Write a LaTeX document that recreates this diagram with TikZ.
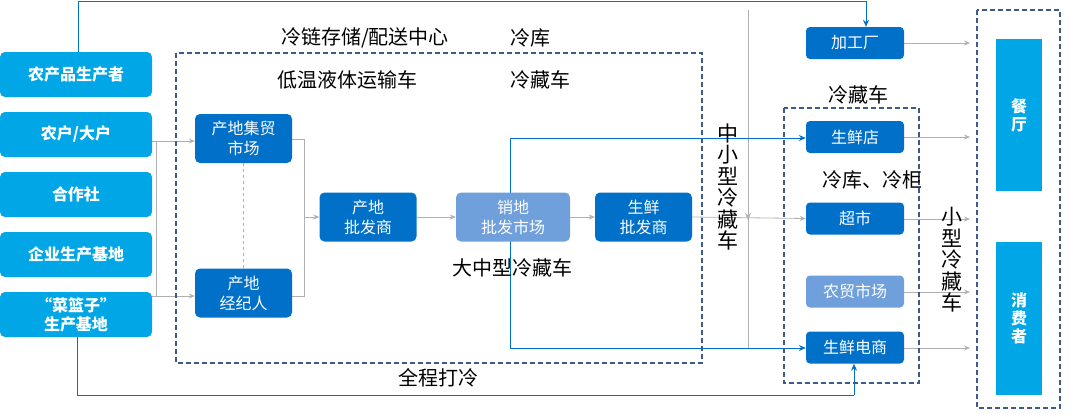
\documentclass[tikz,border=0pt]{standalone}
\usepackage{fontspec}
\setmainfont{Noto Sans CJK SC}
\usetikzlibrary{arrows.meta,backgrounds}
\definecolor{cy}{HTML}{00A6E6}
\definecolor{db}{HTML}{0070C8}
\definecolor{lb}{HTML}{6FA0DC}
\definecolor{dash}{HTML}{3C5A8C}
\definecolor{gl}{HTML}{B0B0B0}
\begin{document}
\begin{tikzpicture}[x=1pt,y=-1pt,
 src/.style={fill=cy,rounded corners=5pt,text=white,font=\bfseries\fontsize{16}{19}\selectfont,align=center,minimum width=152pt,minimum height=45pt,inner sep=0},
 bx/.style={fill=db,rounded corners=5pt,text=white,font=\fontsize{16}{20}\selectfont,align=center,minimum width=97pt,minimum height=49pt,inner sep=0},
 rb/.style={fill=db,rounded corners=4pt,text=white,font=\fontsize{16}{18}\selectfont,minimum width=98pt,minimum height=32pt,inner sep=0},
 lbl/.style={font=\fontsize{20}{22}\selectfont,text=black},
 vl/.style={font=\fontsize{21}{21.5}\selectfont,align=center,text=black},
 dbox/.style={draw=dash,dashed,line width=1.2pt,dash pattern=on 5pt off 3pt},
 ga/.style={draw=gl,line width=0.8pt,-{Stealth[length=6pt,width=5pt]}},
 gn/.style={draw=gl,line width=0.8pt},
 ba/.style={draw=db,line width=1pt,-{Stealth[length=7pt,width=6pt]}},
 bn/.style={draw=db,line width=1pt}]
\useasboundingbox (0,0) rectangle (1080,416);
% dashed frames
\draw[dbox] (176,53) rectangle (702,363);
\draw[dbox] (784,108) rectangle (919,383);
\draw[dbox] (977,10) rectangle (1060,408);
% left sources
\node[src] (s1) at (76,74.5) {农产品生产者};
\node[src] (s2) at (76,134.5) {农户/大户};
\node[src] (s3) at (76,194.5) {合作社};
\node[src] (s4) at (76,254.5) {企业生产基地};
\node[src] (s5) at (76,314.5) {“菜篮子”\\生产基地};
% middle
\node[bx] (jm) at (243.5,138.5) {产地集贸\\市场};
\node[bx] (jj) at (243.5,293) {产地\\经纪人};
\node[bx] (pf) at (368,217) {产地\\批发商};
\node[bx,fill=lb,minimum width=114pt] (xd) at (513,217) {销地\\批发市场};
\node[bx] (sx) at (643.5,217) {生鲜\\批发商};
% right
\node[rb] (jg) at (855,43) {加工厂};
\node[rb] (sd) at (855,137) {生鲜店};
\node[rb] (cs) at (855,218.5) {超市};
\node[rb,fill=lb] (nm) at (855,291.5) {农贸市场};
\node[rb] (ds) at (855,347.5) {生鲜电商};
\node[fill=cy,minimum width=46pt,minimum height=152pt,inner sep=0,text=white,font=\bfseries\fontsize{16}{18}\selectfont,align=center] (ct) at (1019,115) {餐\\厅};
\node[fill=cy,minimum width=46pt,minimum height=153pt,inner sep=0,text=white,font=\bfseries\fontsize{16}{18}\selectfont,align=center] (xf) at (1019,318.5) {消\\费\\者};
% labels
\node[lbl] (t1) at (365,38) {冷链存储/配送中心};
\node[lbl] (t2) at (530,38) {冷库};
\node[lbl] (t3) at (347,80) {低温液体运输车};
\node[lbl] (t4) at (540,80) {冷藏车};
\node[lbl] (t5) at (512,268) {大中型冷藏车};
\node[lbl] (t6) at (438,378) {全程打冷};
\node[lbl] (t7) at (858,95) {冷藏车};
\node[lbl] (t8) at (872,180) {冷库、冷柜};
\node[vl] (t9) at (728,187) {中\\小\\型\\冷\\藏\\车};
\node[vl] (t10) at (952,260) {小\\型\\冷\\藏\\车};
\begin{scope}[on background layer]
% gray connectors
\coordinate (g1) at (156,141); \coordinate (g2) at (156,296);
\draw[gn] (g1) -- (g2);
\draw[gn] (s2.east |- g1) -- (g1);
\draw[gn] (s5.east |- g2) -- (g2);
\draw[ga] (g1) -- (jm.west |- g1);
\draw[ga] (g2) -- (jj.west |- g2);
\coordinate (r1) at (304,139); \coordinate (r2) at (304,296); \coordinate (r3) at (304,217);
\draw[gn] (jm.east |- r1) -- (r1) -- (r2) -- (jj.east |- r2);
\draw[ga] (r3) -- (pf.west);
\draw[gl,dashed,line width=0.8pt,-{Stealth[length=6pt,width=5pt]}] (jj.north) -- ([yshift=12pt]jm.south);
\draw[ga] (pf.east) -- (xd.west);
\draw[ga] (xd.east) -- (sx.west);
\draw[ga] (sx.east) -- (cs.west);
\coordinate (v1) at (748,10); \coordinate (v2) at (748,348); \coordinate (vm) at (748,220);
\draw[gn] (v1) -- (v2);
\draw[gl,line width=0.8pt,-{Stealth[length=7pt,width=6pt]}] (748,200) -- (vm);
\foreach \n/\y in {jg/43,sd/137,cs/219,nm/292,ds/348}{
  \coordinate (e\n) at (970,\y);
  \draw[ga] (\n.east |- e\n) -- (e\n);
}
% blue connectors
\coordinate (b0) at (78,1); \coordinate (b1) at (866,1);
\draw[bn] (s1.north -| b0) -- (b0) -- (b1);
\draw[ba] (b1) -- (b1 |- jg.north);
\coordinate (c0) at (77,395); \coordinate (c1) at (854,395);
\draw[bn] (s5.south -| c0) -- (c0) -- (c1);
\draw[ba] (c1) -- (c1 |- ds.south);
\coordinate (m1) at (510,138); \coordinate (m2) at (510,348);
\draw[bn] (m1) -- (m2);
\draw[ba] (m1) -- (sd.west |- m1);
\draw[ba] (m2) -- (ds.west |- m2);
\end{scope}
\end{tikzpicture}
\end{document}
